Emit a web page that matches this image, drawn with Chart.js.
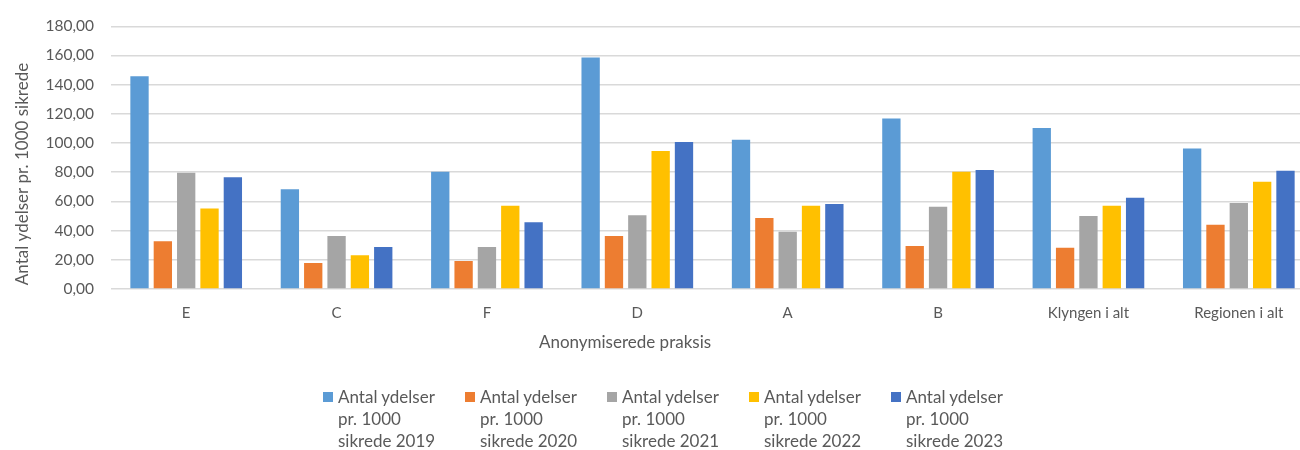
<!DOCTYPE html>
<html>
<head>
<meta charset="utf-8">
<script src="https://cdn.jsdelivr.net/npm/chart.js@4/dist/chart.umd.min.js"></script>
<style>
  html, body { margin: 0; padding: 0; background: #fff; overflow: hidden; }
  #wrap { position: relative; width: 1300px; height: 450px; overflow: hidden; }
  #c { position: absolute; left: 0; top: 0; }
  #legend { position: absolute; left: 323px; top: 386px; display: flex; font-family: Lato, sans-serif; font-size: 17px; color: #595959; }
  .item { width: 142px; display: flex; align-items: flex-start; }
  .box { width: 10px; height: 10px; margin-top: 6px; margin-right: 5px; flex: none; }
  .txt { line-height: 22px; white-space: nowrap; }
</style>
</head>
<body>
<div id="wrap">
  <canvas id="c" width="1314" height="450"></canvas>
  <div id="legend"></div>
</div>
<script>
const categories = ["E", "C", "F", "D", "A", "B", "Klyngen i alt", "Regionen i alt"];
const seriesNames = [
  "Antal ydelser pr. 1000 sikrede 2019",
  "Antal ydelser pr. 1000 sikrede 2020",
  "Antal ydelser pr. 1000 sikrede 2021",
  "Antal ydelser pr. 1000 sikrede 2022",
  "Antal ydelser pr. 1000 sikrede 2023"
];
const values2019 = [145.8, 68.3, 80.3, 158.7, 102.2, 116.8, 110.4, 96.3];
const values2020 = [32.7, 17.9, 19.2, 36.4, 48.7, 29.5, 28.2, 44.1];
const values2021 = [79.6, 36.4, 28.8, 50.6, 39.3, 56.3, 50.0, 58.9];
const values2022 = [55.2, 23.1, 57.0, 94.5, 57.0, 80.3, 57.0, 73.5];
const values2023 = [76.6, 28.8, 45.8, 100.8, 58.3, 81.6, 62.6, 81.0];
const colors = ["#5B9BD5", "#ED7D31", "#A5A5A5", "#FFC000", "#4472C4"];
const xTitle = "Anonymiserede praksis";
const yTitle = "Antal ydelser pr. 1000 sikrede";

const allValues = [values2019, values2020, values2021, values2022, values2023];
const datasets = allValues.map((v, i) => ({
  label: seriesNames[i],
  data: v,
  backgroundColor: colors[i],
  borderWidth: 0,
  categoryPercentage: 0.776,
  barPercentage: 0.785
}));

const FONT = "Lato, sans-serif";
const TXT = "#595959";

const titlesPlugin = {
  id: 'titles',
  afterDraw(chart) {
    const ctx = chart.ctx;
    ctx.save();
    ctx.fillStyle = TXT;
    ctx.font = "17px " + FONT;
    ctx.textAlign = "center";
    ctx.textBaseline = "middle";
    ctx.fillText(xTitle, 625, 343);
    ctx.translate(23, 174);
    ctx.rotate(-Math.PI / 2);
    ctx.fillText(yTitle, 0, 0);
    ctx.restore();
  }
};

new Chart(document.getElementById('c'), {
  type: 'bar',
  data: { labels: categories, datasets },
  options: {
    responsive: false,
    animation: false,
    layout: { padding: { top: 14, bottom: 121, left: 0, right: 0 } },
    plugins: { legend: { display: false }, tooltip: { enabled: false } },
    scales: {
      x: {
        grid: { display: false },
        border: { display: false },
        ticks: { color: TXT, font: { family: FONT, size: 15 }, padding: 7, maxRotation: 0 },
        afterFit(s) { s.height = 40; }
      },
      y: {
        min: 0, max: 180,
        grid: { color: "#D9D9D9", lineWidth: 1.5, drawTicks: false },
        border: { display: false },
        ticks: {
          stepSize: 20,
          color: TXT,
          font: { family: FONT, size: 15.5 },
          padding: 17,
          callback: (v) => Number(v).toFixed(2).replace('.', ',')
        },
        afterFit(s) { s.width = 111; }
      }
    }
  },
  plugins: [titlesPlugin]
});

const legend = document.getElementById('legend');
seriesNames.forEach((name, i) => {
  const item = document.createElement('div');
  item.className = 'item';
  const box = document.createElement('div');
  box.className = 'box';
  box.style.background = colors[i];
  const txt = document.createElement('div');
  txt.className = 'txt';
  const parts = name.split(' ');
  const lines = [parts.slice(0, 2).join(' '), parts.slice(2, 4).join(' '), parts.slice(4).join(' ')];
  txt.innerHTML = lines.map(l => '<div>' + l + '</div>').join('');
  item.appendChild(box);
  item.appendChild(txt);
  legend.appendChild(item);
});
</script>
</body>
</html>
